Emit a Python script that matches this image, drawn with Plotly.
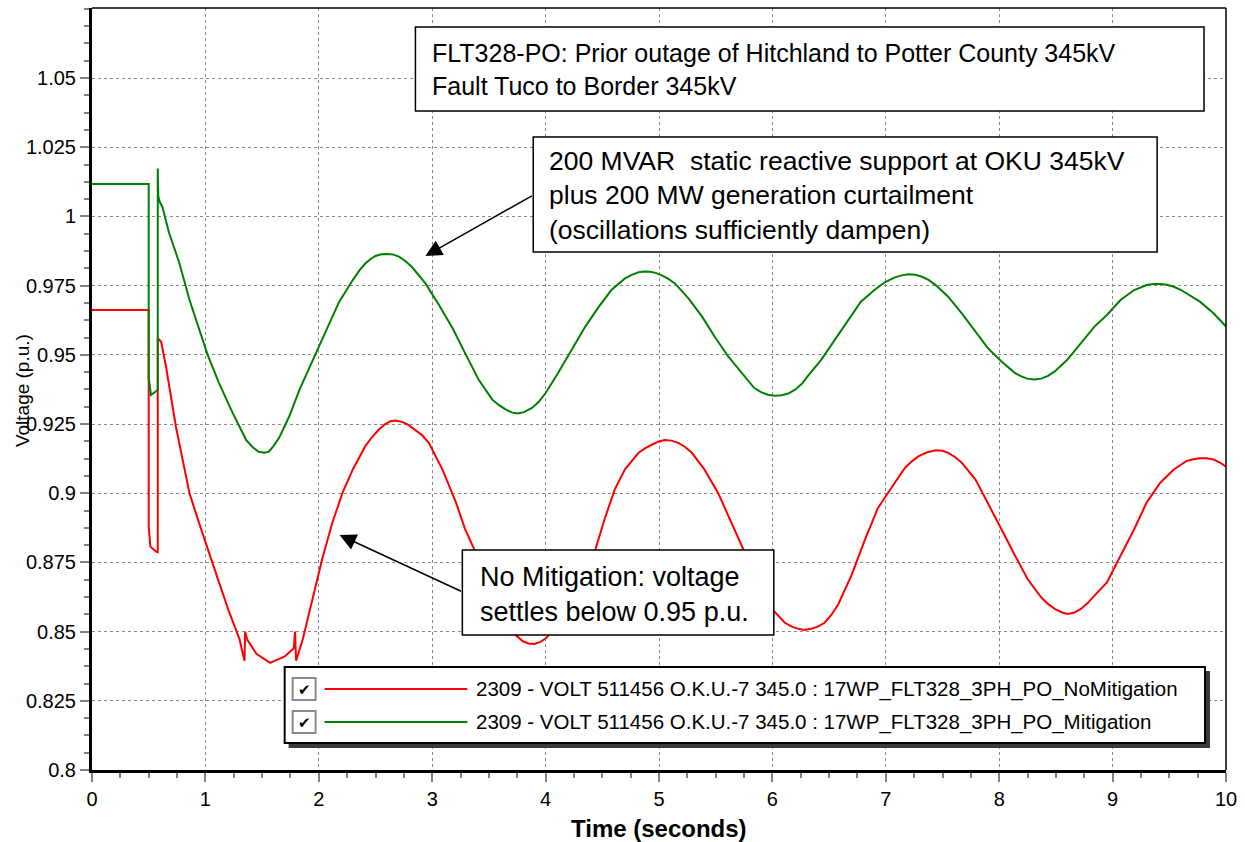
import plotly.graph_objects as go

# ---------------- data ----------------
# (time s, voltage p.u.) readings; repeated times mark the fault / clearing steps
mitigation_readings = [
    (0, 1.0117), (0.50, 1.0117), (0.50, 0.9416), (0.52, 0.9355), (0.57, 0.9370), (0.58, 0.9375),
    (0.58, 1.0173), (0.585, 1.0071), (0.60, 1.0050), (0.62, 1.0035), (0.68, 0.9940), (0.77, 0.9832),
    (0.86, 0.9698), (0.95, 0.9590), (1.02, 0.9500), (1.12, 0.9398), (1.24, 0.9290), (1.36, 0.9192),
    (1.42, 0.9165), (1.47, 0.9150), (1.52, 0.9146), (1.56, 0.9150), (1.60, 0.9170), (1.65, 0.9200),
    (1.74, 0.9278), (1.83, 0.9374), (1.91, 0.9446), (2.00, 0.9530), (2.09, 0.9614), (2.18, 0.9692),
    (2.30, 0.9770), (2.36, 0.9806), (2.41, 0.9830), (2.46, 0.9847), (2.50, 0.9857), (2.55, 0.9863),
    (2.60, 0.9864), (2.66, 0.9862), (2.71, 0.9854), (2.76, 0.9840), (2.82, 0.9818), (2.94, 0.9758),
    (3.06, 0.9680), (3.18, 0.9596), (3.29, 0.9506), (3.41, 0.9410), (3.53, 0.9338), (3.59, 0.9318),
    (3.65, 0.9302), (3.70, 0.9292), (3.75, 0.9288), (3.81, 0.9293), (3.88, 0.9308), (3.94, 0.9330),
    (4.00, 0.9362), (4.11, 0.9434), (4.23, 0.9518), (4.35, 0.9602), (4.47, 0.9674), (4.58, 0.9734),
    (4.70, 0.9776), (4.76, 0.9789), (4.82, 0.9798), (4.87, 0.9801), (4.92, 0.9800), (4.97, 0.9796),
    (5.02, 0.9788), (5.08, 0.9775), (5.14, 0.9758), (5.26, 0.9704), (5.38, 0.9638), (5.49, 0.9566),
    (5.61, 0.9494), (5.73, 0.9434), (5.84, 0.9380), (5.90, 0.9365), (5.96, 0.9356), (6.02, 0.9352),
    (6.08, 0.9354), (6.14, 0.9360), (6.20, 0.9374), (6.26, 0.9395), (6.31, 0.9422), (6.43, 0.9482),
    (6.55, 0.9554), (6.67, 0.9626), (6.78, 0.9692), (6.90, 0.9734), (6.99, 0.9762), (7.08, 0.9780),
    (7.14, 0.9787), (7.20, 0.9791), (7.26, 0.9789), (7.32, 0.9782), (7.38, 0.9770), (7.44, 0.9752),
    (7.55, 0.9710), (7.67, 0.9650), (7.79, 0.9584), (7.90, 0.9524), (8.02, 0.9476), (8.14, 0.9434),
    (8.20, 0.9421), (8.25, 0.9414), (8.31, 0.9411), (8.37, 0.9414), (8.43, 0.9424), (8.49, 0.9440),
    (8.60, 0.9482), (8.72, 0.9542), (8.84, 0.9602), (8.95, 0.9644), (9.07, 0.9698), (9.19, 0.9734),
    (9.30, 0.9752), (9.36, 0.9756), (9.42, 0.9756), (9.48, 0.9753), (9.54, 0.9746), (9.60, 0.9735),
    (9.65, 0.9722), (9.77, 0.9692), (9.89, 0.9650), (10.0, 0.9602),
]

no_mitigation_readings = [
    (0, 0.9662), (0.50, 0.9662), (0.50, 0.8879), (0.515, 0.8807), (0.565, 0.8789), (0.58, 0.8787),
    (0.58, 0.9560), (0.61, 0.9547), (0.653, 0.9457), (0.697, 0.9349), (0.74, 0.9240), (0.80, 0.9120),
    (0.86, 0.9000), (0.946, 0.8890), (1.035, 0.8785), (1.12, 0.8678), (1.21, 0.8570), (1.30, 0.8474),
    (1.33, 0.8420), (1.345, 0.8395), (1.35, 0.8500), (1.37, 0.8470), (1.45, 0.8420), (1.57, 0.8387),
    (1.70, 0.8410), (1.78, 0.8440), (1.79, 0.8500), (1.80, 0.8395), (1.86, 0.8474), (1.94, 0.8606),
    (2.03, 0.8762), (2.12, 0.8894), (2.21, 0.9002), (2.30, 0.9086), (2.41, 0.9170), (2.47, 0.9203),
    (2.53, 0.9230), (2.58, 0.9248), (2.63, 0.9260), (2.68, 0.9263), (2.74, 0.9257), (2.79, 0.9247),
    (2.85, 0.9230), (2.91, 0.9210), (2.97, 0.9182), (3.09, 0.9086), (3.21, 0.8966), (3.29, 0.8870),
    (3.37, 0.8798), (3.50, 0.8660), (3.60, 0.8570), (3.70, 0.8500), (3.80, 0.8465), (3.85, 0.8457),
    (3.90, 0.8455), (3.95, 0.8462), (4.00, 0.8475), (4.10, 0.8520), (4.20, 0.8590), (4.30, 0.8670),
    (4.44, 0.8798), (4.52, 0.8906), (4.61, 0.9014), (4.70, 0.9086), (4.82, 0.9146), (4.88, 0.9163),
    (4.94, 0.9176), (5.00, 0.9187), (5.05, 0.9192), (5.11, 0.9190), (5.17, 0.9182), (5.23, 0.9167),
    (5.29, 0.9146), (5.40, 0.9086), (5.52, 0.9002), (5.64, 0.8894), (5.73, 0.8810), (5.85, 0.8700),
    (5.93, 0.8625), (6.00, 0.8580), (6.11, 0.8532), (6.17, 0.8518), (6.23, 0.8510), (6.28, 0.8506),
    (6.34, 0.8510), (6.40, 0.8518), (6.46, 0.8532), (6.52, 0.8560), (6.58, 0.8598), (6.70, 0.8706),
    (6.81, 0.8826), (6.93, 0.8946), (7.06, 0.9026), (7.17, 0.9092), (7.23, 0.9115), (7.29, 0.9134),
    (7.36, 0.9147), (7.44, 0.9155), (7.50, 0.9153), (7.55, 0.9146), (7.61, 0.9131), (7.67, 0.9110),
    (7.79, 0.9050), (7.90, 0.8966), (8.02, 0.8870), (8.14, 0.8774), (8.25, 0.8690), (8.37, 0.8624),
    (8.43, 0.8600), (8.49, 0.8582), (8.55, 0.8570), (8.60, 0.8564), (8.66, 0.8568), (8.72, 0.8582),
    (8.78, 0.8603), (8.84, 0.8630), (8.95, 0.8678), (9.07, 0.8774), (9.19, 0.8870), (9.30, 0.8966),
    (9.42, 0.9038), (9.54, 0.9086), (9.65, 0.9116), (9.71, 0.9123), (9.77, 0.9126), (9.83, 0.9126),
    (9.89, 0.9122), (9.95, 0.9110), (10.0, 0.9096),
]

series_names = ["2309 - VOLT 511456 O.K.U.-7 345.0 : 17WP_FLT328_3PH_PO_NoMitigation",
                "2309 - VOLT 511456 O.K.U.-7 345.0 : 17WP_FLT328_3PH_PO_Mitigation"]

x_tick_vals = [0, 1, 2, 3, 4, 5, 6, 7, 8, 9, 10]
x_tick_labels = ["0", "1", "2", "3", "4", "5", "6", "7", "8", "9", "10"]
y_tick_vals = [0.8, 0.825, 0.85, 0.875, 0.9, 0.925, 0.95, 0.975, 1.0, 1.025, 1.05]
y_tick_labels = ["0.8", "0.825", "0.85", "0.875", "0.9", "0.925", "0.95", "0.975", "1", "1.025", "1.05"]

note_prior = "FLT328-PO: Prior outage of Hitchland to Potter County 345kV<br>Fault Tuco to Border 345kV"
note_mitig = ("200 MVAR  static reactive support at OKU 345kV<br>plus 200 MW generation curtailment"
              "<br>(oscillations sufficiently dampen)")
note_nomit = "No Mitigation: voltage<br>settles below 0.95 p.u."

time_mitigation = [p[0] for p in mitigation_readings]
volt_mitigation = [p[1] for p in mitigation_readings]
time_no_mitigation = [p[0] for p in no_mitigation_readings]
volt_no_mitigation = [p[1] for p in no_mitigation_readings]

# ---------------- layout geometry ----------------
W, H = 1245, 842
L, R, T, B = 92, 17, 8, 72
FONT = "Liberation Sans, Arial, sans-serif"
RED, GREEN = "#ff0000", "#008000"


def px_x(px):
    return (px - L) / (W - L - R)


def px_y(py):
    return (H - B - py) / (H - T - B)


fig = go.Figure()
fig.add_trace(go.Scatter(x=time_no_mitigation, y=volt_no_mitigation, mode="lines",
                         line=dict(color=RED, width=2), name=series_names[0]))
fig.add_trace(go.Scatter(x=time_mitigation, y=volt_mitigation, mode="lines",
                         line=dict(color=GREEN, width=2), name=series_names[1]))

shapes = []
# thin top / right frame
shapes.append(dict(type="line", xref="paper", yref="paper", x0=0, x1=1, y0=1, y1=1,
                   line=dict(color="black", width=1.5)))
shapes.append(dict(type="line", xref="paper", yref="paper", x0=1, x1=1, y0=0, y1=1,
                   line=dict(color="black", width=1.5)))


def box(x0, y0, x1, y1, fill="white", line_color="black", lw=1.5):
    return dict(type="rect", xref="paper", yref="paper", layer="above",
                x0=px_x(x0), x1=px_x(x1), y0=px_y(y1), y1=px_y(y0),
                fillcolor=fill, line=dict(color=line_color, width=lw))


shapes.append(box(416, 27, 1206, 111))
shapes.append(box(534, 137, 1159, 252))
shapes.append(box(463, 550, 775, 635))
# legend with shadow
shapes.append(box(289, 671, 1212, 748, fill="#3a3a3a", line_color="#3a3a3a", lw=0))
shapes.append(box(285, 667, 1207, 743, lw=2))
for cy in (689, 722):
    shapes.append(box(293, cy - 11, 316, cy + 11, fill="white", line_color="#8a8a8a", lw=2))
for cy, col in ((689, RED), (722, GREEN)):
    shapes.append(dict(type="line", xref="paper", yref="paper", layer="above",
                       x0=px_x(325), x1=px_x(468), y0=px_y(cy), y1=px_y(cy),
                       line=dict(color=col, width=2)))

ann = []


def text(px, py, s, size, xanchor="left", **kw):
    d = dict(xref="paper", yref="paper", x=px_x(px), y=px_y(py), text=s, showarrow=False,
             xanchor=xanchor, yanchor="middle", align="left",
             font=dict(family=FONT, size=size, color="black"))
    d.update(kw)
    return d


ann.append(text(431, 69, note_prior, 25))
ann.append(text(548, 195, note_mitig, 26.5))
ann.append(text(479, 594, note_nomit, 27))
ann.append(text(475, 689, series_names[0], 20.5))
ann.append(text(475, 722, series_names[1], 20.5))
for cy in (689, 722):
    ann.append(text(304.5, cy, "✔", 15, xanchor="center"))
# arrows
for tip, tail in (((426, 256), (534, 195)), ((340, 535), (463, 592))):
    ann.append(dict(xref="paper", yref="paper", x=px_x(tip[0]), y=px_y(tip[1]),
                    ax=tail[0] - tip[0], ay=tail[1] - tip[1], axref="pixel", ayref="pixel",
                    text="", showarrow=True, arrowhead=2, arrowsize=2.2, arrowwidth=1.5,
                    arrowcolor="black", standoff=0))
# axis titles
ann.append(dict(xref="paper", yref="paper", x=px_x(660), y=px_y(828), text="<b>Time (seconds)</b>",
                showarrow=False, xanchor="center", yanchor="middle",
                font=dict(family=FONT, size=24, color="black")))
ann.append(dict(xref="paper", yref="paper", x=px_x(22), y=px_y(391), text="Voltage (p.u.)",
                showarrow=False, xanchor="center", yanchor="middle", textangle=-90,
                font=dict(family=FONT, size=19, color="black")))

fig.update_layout(
    width=W, height=H, margin=dict(l=L, r=R, t=T, b=B, pad=0),
    paper_bgcolor="white", plot_bgcolor="white", showlegend=False,
    font=dict(family=FONT, size=20, color="black"),
    shapes=shapes, annotations=ann,
    xaxis=dict(range=[0, 10], tickmode="array", tickvals=x_tick_vals, ticktext=x_tick_labels,
               showline=True, linecolor="black", linewidth=3, zeroline=False,
               ticks="outside", ticklen=9, tickwidth=2, tickcolor="#808080",
               tickfont=dict(family=FONT, size=20, color="black"),
               showgrid=True, gridcolor="#8a8a8a", gridwidth=1, griddash="3px,3px",
               minor=dict(tickmode="linear", tick0=0, dtick=0.25, ticks="outside", ticklen=5,
                          tickwidth=2, tickcolor="#808080", showgrid=False)),
    yaxis=dict(range=[0.8, 1.0753], tickmode="array", tickvals=y_tick_vals, ticktext=y_tick_labels,
               showline=True, linecolor="black", linewidth=3, zeroline=False,
               ticks="outside", ticklen=9, tickwidth=2, tickcolor="#808080",
               tickfont=dict(family=FONT, size=20, color="black"),
               showgrid=True, gridcolor="#8a8a8a", gridwidth=1, griddash="3px,3px",
               minor=dict(tickmode="linear", tick0=0.8, dtick=0.00625, ticks="outside", ticklen=5,
                          tickwidth=2, tickcolor="#808080", showgrid=False)),
)

fig.write_html("out.html")
